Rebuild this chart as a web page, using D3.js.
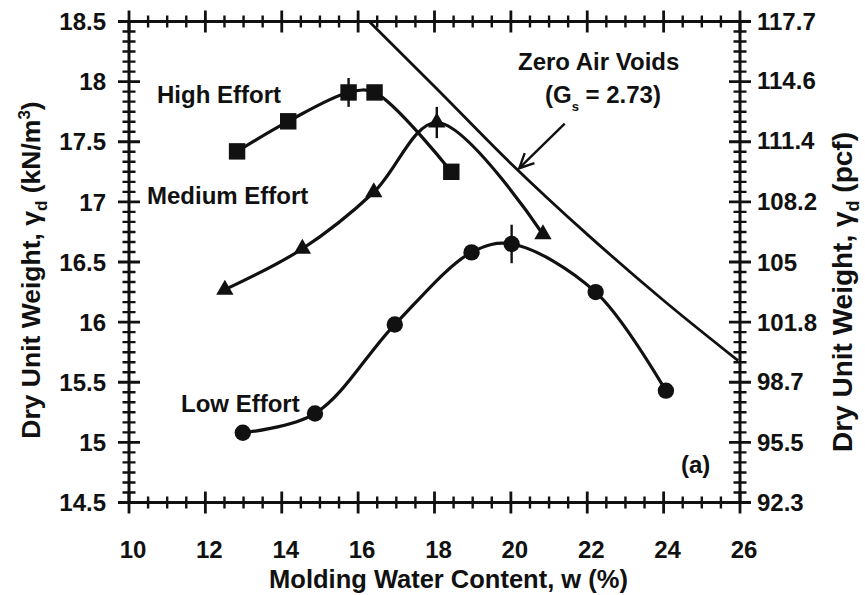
<!DOCTYPE html>
<html>
<head>
<meta charset="utf-8">
<script src="https://cdn.jsdelivr.net/npm/d3@7"></script>
<style>
  html, body { margin: 0; padding: 0; background: #fff; }
  svg text { font-family: "Liberation Sans", Arial, sans-serif; font-weight: bold; fill: #111; }
</style>
</head>
<body>
<div id="chart"></div>
<script>
// axis ticks
const xMajor = [10, 12, 14, 16, 18, 20, 22, 24, 26];
const yMajor = [14.5, 15, 15.5, 16, 16.5, 17, 17.5, 18, 18.5];
const yLabels = ["14.5", "15", "15.5", "16", "16.5", "17", "17.5", "18", "18.5"];
const pcfLabels = ["92.3", "95.5", "98.7", "101.8", "105", "108.2", "111.4", "114.6", "117.7"];

// compaction curves (w %, dry unit weight kN/m3)
const highW  = [12.83, 14.17, 15.75, 16.43, 18.44];
const highGd = [17.42, 17.67, 17.91, 17.91, 17.25];
const medW   = [12.51, 14.54, 16.41, 18.06, 20.84];
const medGd  = [16.27, 16.61, 17.08, 17.66, 16.73];
const lowW   = [12.98, 14.87, 16.96, 18.97, 20.02, 22.22, 24.06];
const lowGd  = [15.08, 15.24, 15.98, 16.58, 16.65, 16.25, 15.43];

// zero air voids line, Gs = 2.73
const zavW  = [16.29, 18, 20, 22, 24, 25.95];
const zavGd = [18.5, 17.96, 17.32, 16.73, 16.18, 15.68];

// vertical bars at the optimum points (w, gd, half height)
const optW    = [15.75, 18.06, 20.02];
const optGd   = [17.91, 17.66, 16.65];
const optHalf = [0.12, 0.13, 0.16];

const W = 865, H = 595;
const mLeft = 129, mRight = 740, mTop = 21.5, mBottom = 502.5;
const ink = "#111";

const svg = d3.select("#chart").append("svg")
  .attr("width", W).attr("height", H);
const g = svg.append("g");

const x = d3.scaleLinear().domain([10, 26]).range([mLeft, mRight]);
const y = d3.scaleLinear().domain([14.5, 18.5]).range([mBottom, mTop]);
const yPcf = d3.scaleLinear().domain([92.3, 117.7]).range([mBottom, mTop]);

// frame
g.append("rect")
  .attr("x", mLeft).attr("y", mTop)
  .attr("width", mRight - mLeft).attr("height", mBottom - mTop)
  .attr("fill", "none").attr("stroke", ink).attr("stroke-width", 3);

// tick labels
const labStyle = s => s.style("font-size", "24px");
g.append("g").selectAll("text").data(xMajor).join("text")
  .attr("x", d => x(d) + 4).attr("y", 558)
  .attr("text-anchor", "middle").call(labStyle)
  .text(d => d);
g.append("g").selectAll("text").data(yMajor).join("text")
  .attr("x", mLeft - 23).attr("y", d => y(d)).attr("dy", "0.36em")
  .attr("text-anchor", "end").call(labStyle)
  .text((d, i) => yLabels[i]);
g.append("g").selectAll("text").data(pcfLabels).join("text")
  .attr("x", mRight + 17).attr("y", d => yPcf(+d)).attr("dy", "0.36em")
  .call(labStyle)
  .text(d => d);

// axis titles
g.append("text")
  .attr("x", (mLeft + mRight) / 2 + 14).attr("y", 588)
  .attr("text-anchor", "middle").style("font-size", "25.5px")
  .text("Molding Water Content, w (%)");

const yt = g.append("text")
  .attr("transform", "translate(40,270) rotate(-90)")
  .attr("text-anchor", "middle").style("font-size", "26.5px");
yt.append("tspan").text("Dry Unit Weight, γ");
yt.append("tspan").attr("dy", 7).style("font-size", "17px").text("d");
yt.append("tspan").attr("dy", -7).text(" (kN/m");
yt.append("tspan").attr("dy", -10).style("font-size", "17px").text("3");
yt.append("tspan").attr("dy", 10).text(")");

const yr = g.append("text")
  .attr("transform", "translate(852,292) rotate(-90)")
  .attr("text-anchor", "middle").style("font-size", "28px");
yr.append("tspan").text("Dry Unit Weight, γ");
yr.append("tspan").attr("dy", 7).style("font-size", "18px").text("d");
yr.append("tspan").attr("dy", -7).text(" (pcf)");

// zero air voids
const line = d3.line().x(d => x(d[0])).y(d => y(d[1])).curve(d3.curveMonotoneX);
g.append("path")
  .datum(d3.zip(zavW, zavGd))
  .attr("d", line)
  .attr("fill", "none").attr("stroke", ink).attr("stroke-width", 2.8);

// curves
const curve = d3.line().x(d => x(d[0])).y(d => y(d[1])).curve(d3.curveCatmullRom.alpha(0.5));
const series = [
  { w: highW, gd: highGd, sym: d3.symbolSquare, size: 270 },
  { w: medW, gd: medGd, sym: d3.symbolTriangle, size: 130 },
  { w: lowW, gd: lowGd, sym: d3.symbolCircle, size: 210 }
];
series.forEach(s => {
  const pts = d3.zip(s.w, s.gd);
  g.append("path").datum(pts).attr("d", curve)
    .attr("fill", "none").attr("stroke", ink).attr("stroke-width", 3.2);
  g.append("g").selectAll("path").data(pts).join("path")
    .attr("transform", d => `translate(${x(d[0])},${y(d[1])})`)
    .attr("d", d3.symbol().type(s.sym).size(s.size))
    .attr("fill", ink);
});

// optimum bars
g.append("g").selectAll("line").data(d3.range(optW.length)).join("line")
  .attr("x1", i => x(optW[i])).attr("x2", i => x(optW[i]))
  .attr("y1", i => y(optGd[i] + optHalf[i])).attr("y2", i => y(optGd[i] - optHalf[i]))
  .attr("stroke", ink).attr("stroke-width", 2.4);

// labels
const lab = (tx, ty, t) => g.append("text").attr("x", tx).attr("y", ty).style("font-size", "24px").text(t);
lab(157, 103, "High Effort");
lab(147, 204, "Medium Effort");
lab(181, 412, "Low Effort");
lab(518, 70, "Zero Air Voids");
lab(681, 473, "(a)");
const gs = g.append("text").attr("x", 545).attr("y", 103).style("font-size", "24px");
gs.append("tspan").text("(G");
gs.append("tspan").attr("dy", 8).style("font-size", "13px").text("s");
gs.append("tspan").attr("dy", -8).text(" = 2.73)");

// arrow to the zero air voids line
const a0 = [x(21.41), y(17.65)], a1 = [x(20.22), y(17.28)];
g.append("line")
  .attr("x1", a0[0]).attr("y1", a0[1]).attr("x2", a1[0]).attr("y2", a1[1])
  .attr("stroke", ink).attr("stroke-width", 2.4);
const ang = Math.atan2(a1[1] - a0[1], a1[0] - a0[0]);
const hl = 16, hs = 0.45;
g.append("path")
  .attr("d", `M${a1[0] - hl * Math.cos(ang - hs)},${a1[1] - hl * Math.sin(ang - hs)}L${a1[0]},${a1[1]}L${a1[0] - hl * Math.cos(ang + hs)},${a1[1] - hl * Math.sin(ang + hs)}`)
  .attr("fill", "none").attr("stroke", ink).attr("stroke-width", 2.4);

// ticks cross the frame on all four sides
const xMinor = [];
for (let v = 10.5; v < 26; v += 0.5) if (v % 2 !== 0) xMinor.push(v);
const yMinor = [];
for (let i = 1; i < 48; i++) if (i % 6 !== 0) yMinor.push(14.5 + i * 0.5 / 6);

function tickPath(vals, half, vertical) {
  let d = "";
  vals.forEach(v => {
    if (vertical) {
      const px = x(v);
      d += `M${px},${mTop - half}V${mTop + half}M${px},${mBottom - half}V${mBottom + half}`;
    } else {
      const py = y(v);
      d += `M${mLeft - half},${py}H${mLeft + half}M${mRight - half},${py}H${mRight + half}`;
    }
  });
  return d;
}
const tickSpecs = [
  { vals: xMajor, half: 11, vert: true, sw: 2.8 },
  { vals: xMinor, half: 6, vert: true, sw: 2.4 },
  { vals: yMajor, half: 11, vert: false, sw: 2.8 },
  { vals: yMinor, half: 6.5, vert: false, sw: 2.4 }
];
tickSpecs.forEach(t => {
  svg.append("path").attr("d", tickPath(t.vals, t.half, t.vert))
    .attr("fill", "none").attr("stroke", ink).attr("stroke-width", t.sw);
});
</script>
</body>
</html>
